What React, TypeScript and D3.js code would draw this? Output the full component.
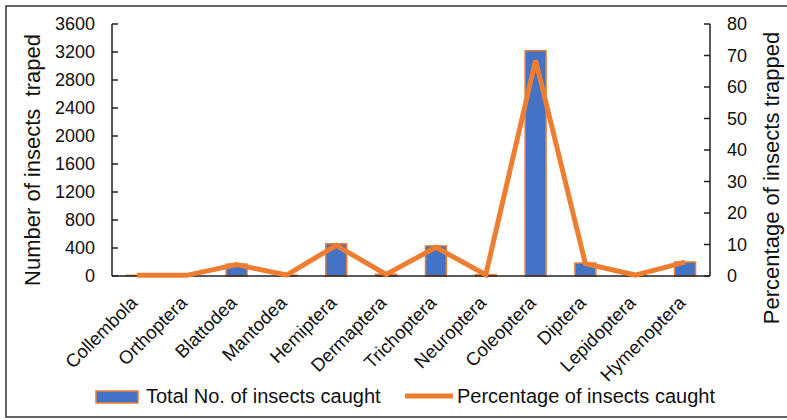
import React from "react";
import * as d3 from "d3";

const categories = ["Collembola", "Orthoptera", "Blattodea", "Mantodea", "Hemiptera", "Dermaptera", "Trichoptera", "Neuroptera", "Coleoptera", "Diptera", "Lepidoptera", "Hymenoptera"];
const totalCaught = [10, 8, 170, 12, 460, 25, 430, 20, 3220, 185, 6, 200];
const percentCaught = [0.2, 0.2, 3.6, 0.3, 9.7, 0.5, 9.1, 0.4, 68.5, 3.9, 0.3, 4.4];
const leftTicks = [0, 400, 800, 1200, 1600, 2000, 2400, 2800, 3200, 3600];
const rightTicks = [0, 10, 20, 30, 40, 50, 60, 70, 80];

const W = 787, H = 420;
const L = 112, R = 710, T = 24, B = 276;
const BLUE = "#4472C4", ORANGE = "#ED7D31";
const FONT = "'Liberation Sans', Arial, sans-serif";

export default function App() {
  const x = d3.scaleBand<string>().domain(categories).range([L, R]);
  const center = (c: string) => (x(c) as number) + x.bandwidth() / 2;
  const yL = d3.scaleLinear().domain([0, 3600]).range([B, T]);
  const yR = d3.scaleLinear().domain([0, 80]).range([B, T]);
  const barW = x.bandwidth() * 0.42;
  const line = d3.line<number>().x((_, i) => center(categories[i])).y((d) => yR(d));

  return (
    <svg width={W} height={H} style={{ position: "absolute", left: 0, top: 0, background: "#fff" }} fontFamily={FONT}>
      <rect x={6} y={6} width={800} height={411} fill="#fff" stroke="#333" strokeWidth={1.5} />
      {totalCaught.map((v, i) => (
        <rect key={i} x={center(categories[i]) - barW / 2} y={yL(v)} width={barW} height={B - yL(v)} fill={BLUE} stroke={ORANGE} strokeWidth={1.5} />
      ))}
      <line x1={L} x2={R} y1={B} y2={B} stroke="#222" strokeWidth={1.3} />
      <line x1={L} x2={L} y1={T} y2={B} stroke="#222" strokeWidth={1.5} />
      <line x1={R} x2={R} y1={T} y2={B} stroke="#222" strokeWidth={1.5} />
      {leftTicks.map((t) => (
        <g key={"l" + t}>
          <line x1={L} x2={L + 6} y1={yL(t)} y2={yL(t)} stroke="#222" strokeWidth={1.5} />
          <text x={95} y={yL(t) + 6} textAnchor="end" fontSize={18} fill="#111">{t}</text>
        </g>
      ))}
      {rightTicks.map((t) => (
        <g key={"r" + t}>
          <line x1={R - 6} x2={R} y1={yR(t)} y2={yR(t)} stroke="#222" strokeWidth={1.5} />
          <text x={727} y={yR(t) + 6} textAnchor="start" fontSize={18} fill="#111">{t}</text>
        </g>
      ))}
      <path d={line(percentCaught) || ""} fill="none" stroke={ORANGE} strokeWidth={5} strokeLinejoin="miter" />
      {categories.map((c) => (
        <text key={c} transform={`translate(${center(c) + 1.5},${304}) rotate(-45)`} textAnchor="end" fontSize={18.5} fill="#111">{c}</text>
      ))}
      <text transform={`translate(40,160) rotate(-90)`} textAnchor="middle" fontSize={22} fill="#111" style={{ whiteSpace: "pre" }}>{"Number of insects  traped"}</text>
      <text transform={`translate(779,178) rotate(-90)`} textAnchor="middle" fontSize={22} fill="#111">Percentage of insects trapped</text>
      <rect x={96} y={391} width={42} height={12} fill={BLUE} stroke={ORANGE} strokeWidth={1.5} />
      <text x={146} y={403} fontSize={20} fill="#111">Total No. of insects caught</text>
      <line x1={405} x2={453} y1={396} y2={396} stroke={ORANGE} strokeWidth={5} />
      <text x={457} y={403} fontSize={20} fill="#111">Percentage of insects caught</text>
    </svg>
  );
}
